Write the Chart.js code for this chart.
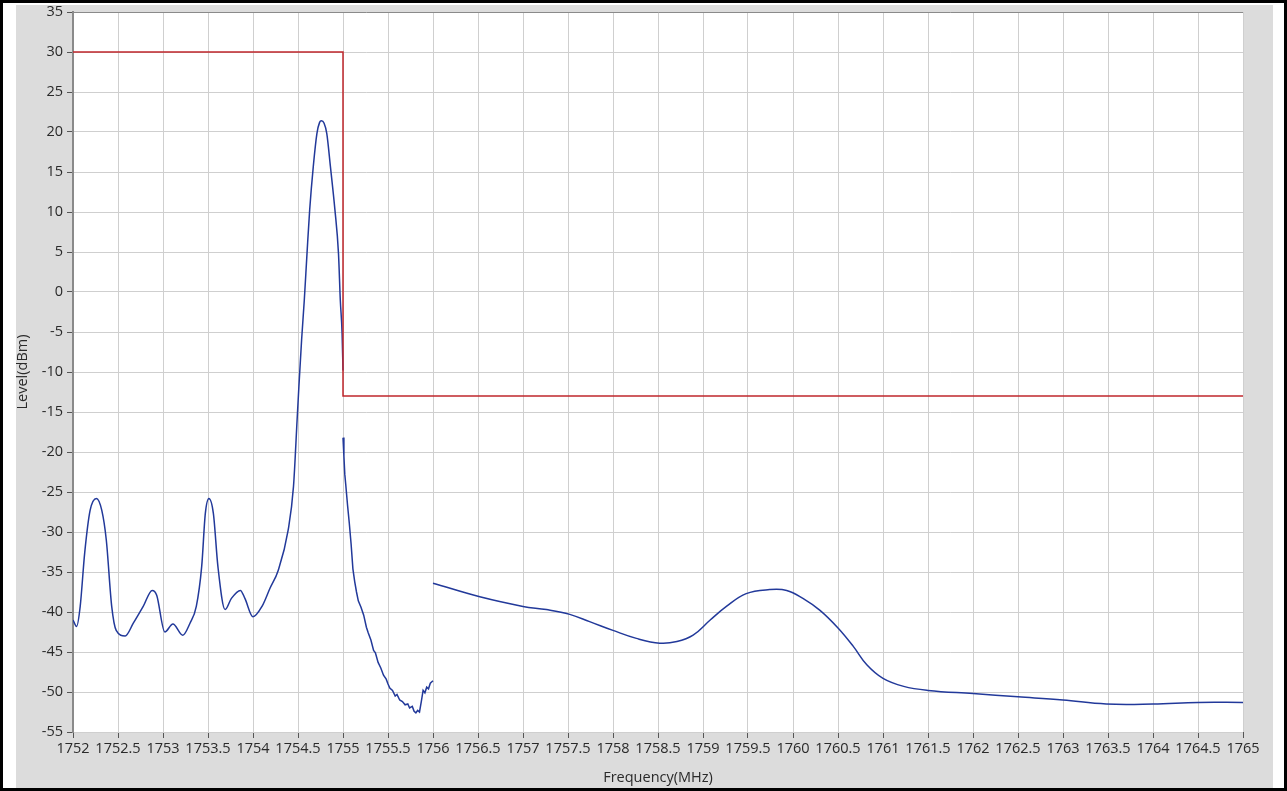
<!DOCTYPE html>
<html>
<head>
<meta charset="utf-8">
<title>Spectrum</title>
<script src="https://cdn.jsdelivr.net/npm/chart.js@4.4.1/dist/chart.umd.min.js"></script>
<style>
    html, body { margin: 0; padding: 0; background: #fff; }
    #frame {
        position: absolute; left: 0; top: 0;
        width: 1287px; height: 791px;
        border: 3px solid #000; box-sizing: border-box;
    }
    #panel {
        position: absolute; left: 16px; top: 5px;
        width: 1257px; height: 783px;
        background: #dcdcdc;
    }
</style>
</head>
<body>
<div id="frame"></div>
<div id="panel"><canvas id="spectrumChart" width="1257" height="783"></canvas></div>
<script>
// --- Data ---

// main carrier + spurs, 1752 .. 1755 MHz
const freqA = [1752.00, 1752.04, 1752.08, 1752.13, 1752.19, 1752.26, 1752.32, 1752.37, 1752.43, 1752.48,
    1752.58, 1752.67, 1752.78, 1752.88, 1752.93, 1753.02, 1753.11, 1753.22, 1753.30, 1753.37,
    1753.43, 1753.47, 1753.51, 1753.56, 1753.61, 1753.69, 1753.76, 1753.86, 1753.91, 1754.00,
    1754.10, 1754.19, 1754.28, 1754.39, 1754.45, 1754.49, 1754.51, 1754.54, 1754.57, 1754.60,
    1754.63, 1754.67, 1754.71, 1754.74, 1754.76, 1754.79, 1754.82, 1754.86, 1754.91, 1754.95,
    1754.97, 1754.99, 1755.00];
const levelA = [-41.0, -41.8, -39.3, -32.6, -27.3, -25.8, -27.3, -31.0, -39.3, -42.3,
    -43.0, -41.4, -39.3, -37.3, -37.9, -42.5, -41.5, -42.9, -41.4, -39.3,
    -34.3, -27.7, -25.8, -27.7, -34.3, -39.7, -38.3, -37.3, -38.3, -40.6,
    -39.3, -37.0, -34.8, -29.8, -24.3, -16.0, -11.8, -6.0, -1.0, 4.8,
    10.3, 15.7, 19.8, 21.2, 21.4, 21.1, 19.8, 15.7, 10.3, 4.8,
    -1.0, -5.2, -9.8];

// noisy roll-off, 1755 .. 1756 MHz
const freqB = [1755.00, 1755.01, 1755.02, 1755.03, 1755.05, 1755.07, 1755.09, 1755.11, 1755.13, 1755.15,
    1755.17, 1755.20, 1755.23, 1755.26, 1755.28, 1755.31, 1755.34, 1755.36, 1755.39, 1755.42,
    1755.45, 1755.48, 1755.50, 1755.52, 1755.55, 1755.58, 1755.60, 1755.63, 1755.66, 1755.69,
    1755.72, 1755.74, 1755.77, 1755.79, 1755.81, 1755.83, 1755.85, 1755.87, 1755.89, 1755.91,
    1755.93, 1755.95, 1755.97, 1756.00];
const levelB = [-18.2, -20.5, -22.8, -24.0, -26.6, -28.9, -31.5, -34.6, -36.2, -37.5,
    -38.6, -39.4, -40.4, -41.9, -42.6, -43.5, -44.8, -45.1, -46.3, -47.0,
    -47.9, -48.4, -49.0, -49.5, -49.8, -50.5, -50.3, -51.0, -51.2, -51.6,
    -51.5, -52.0, -51.8, -52.4, -52.6, -52.3, -52.5, -51.2, -49.8, -50.1,
    -49.4, -49.6, -48.9, -48.6];

// wide sweep, 1756 .. 1765 MHz
const freqC = [1756.00, 1756.52, 1757.00, 1757.26, 1757.52, 1757.74, 1758.00, 1758.26, 1758.52, 1758.71,
    1758.89, 1759.08, 1759.26, 1759.48, 1759.74, 1759.93, 1760.11, 1760.30, 1760.50, 1760.67,
    1760.82, 1761.00, 1761.23, 1761.50, 1762.00, 1762.50, 1763.00, 1763.48, 1764.00, 1764.50,
    1765.00];
const levelC = [-36.4, -38.1, -39.3, -39.7, -40.3, -41.2, -42.3, -43.3, -43.9, -43.7,
    -42.9, -41.0, -39.3, -37.7, -37.2, -37.3, -38.3, -39.8, -42.0, -44.3,
    -46.6, -48.3, -49.3, -49.8, -50.2, -50.6, -51.0, -51.5, -51.5, -51.3,
    -51.3];

// emission limit mask
const limitFreq = [1752, 1755, 1755, 1765];
const limitLevel = [30, 30, -13, -13];

// axes
const xMin = 1752, xMax = 1765, xStep = 0.5;
const yMin = -55, yMax = 35, yStep = 5;

function toPoints(xs, ys) {
    return xs.map((x, i) => ({ x: x, y: ys[i] }));
}

// --- Chart ---
const TRACE = '#22399a';
const LIMIT = '#c0272d';
const GRID = '#cfcfcf';
const TEXT = '#2a2a2a';
const TICK_FONT = { family: "'Open Sans', 'Liberation Sans', sans-serif", size: 14.5 };
const TITLE_FONT = { family: "'Open Sans', 'Liberation Sans', sans-serif", size: 14.5 };

// white plot area on the gray panel
const plotBackground = {
    id: 'plotBackground',
    beforeDraw(chart) {
        const a = chart.chartArea;
        const c = chart.ctx;
        c.save();
        c.fillStyle = '#ffffff';
        c.fillRect(a.left, a.top, a.right - a.left, a.bottom - a.top);
        c.restore();
    }
};

const lineStyle = { borderWidth: 1.5, pointRadius: 0, fill: false };

new Chart(document.getElementById('spectrumChart'), {
    type: 'line',
    data: {
        datasets: [
            Object.assign({ label: 'Limit', data: toPoints(limitFreq, limitLevel), borderColor: LIMIT, tension: 0 }, lineStyle),
            Object.assign({ label: 'Trace 1', data: toPoints(freqA, levelA), borderColor: TRACE, cubicInterpolationMode: 'monotone' }, lineStyle),
            Object.assign({ label: 'Trace 2', data: toPoints(freqB, levelB), borderColor: TRACE, tension: 0 }, lineStyle),
            Object.assign({ label: 'Trace 3', data: toPoints(freqC, levelC), borderColor: TRACE, tension: 0.4 }, lineStyle)
        ]
    },
    options: {
        responsive: false,
        animation: false,
        devicePixelRatio: 1,
        layout: { padding: { top: 7, right: 30, left: 0, bottom: 0 } },
        plugins: {
            legend: { display: false },
            tooltip: { enabled: false }
        },
        scales: {
            x: {
                type: 'linear',
                min: xMin, max: xMax,
                // fixed band height, no extra room for end labels
                afterFit: (s) => { s.height = 56; s.paddingLeft = 0; s.paddingRight = 0; },
                grid: { color: GRID, tickColor: '#555', tickLength: 6, lineWidth: 1 },
                border: { display: false },
                ticks: {
                    stepSize: xStep,
                    autoSkip: false,
                    maxRotation: 0,
                    padding: 2,
                    color: TEXT,
                    font: TICK_FONT,
                    callback: (v) => String(v)
                },
                title: { display: true, text: 'Frequency(MHz)', color: TEXT, font: TITLE_FONT, padding: { top: 0, bottom: 1 } }
            },
            y: {
                type: 'linear',
                min: yMin, max: yMax,
                afterFit: (s) => { s.width = 57; s.paddingTop = 0; s.paddingBottom = 0; },
                grid: {
                    color: (ctx) => (ctx.tick && ctx.tick.value === yMax ? '#8a8a8a' : GRID),
                    tickColor: '#555',
                    tickLength: 6,
                    lineWidth: 1
                },
                border: { display: true, color: '#8a8a8a', width: 2 },
                ticks: {
                    stepSize: yStep,
                    padding: 4,
                    color: TEXT,
                    font: TICK_FONT,
                    callback: (v) => String(v)
                },
                title: { display: true, text: 'Level(dBm)', color: TEXT, font: TITLE_FONT, padding: { top: -2, bottom: 0 } }
            }
        }
    },
    plugins: [plotBackground]
});
</script>
</body>
</html>
